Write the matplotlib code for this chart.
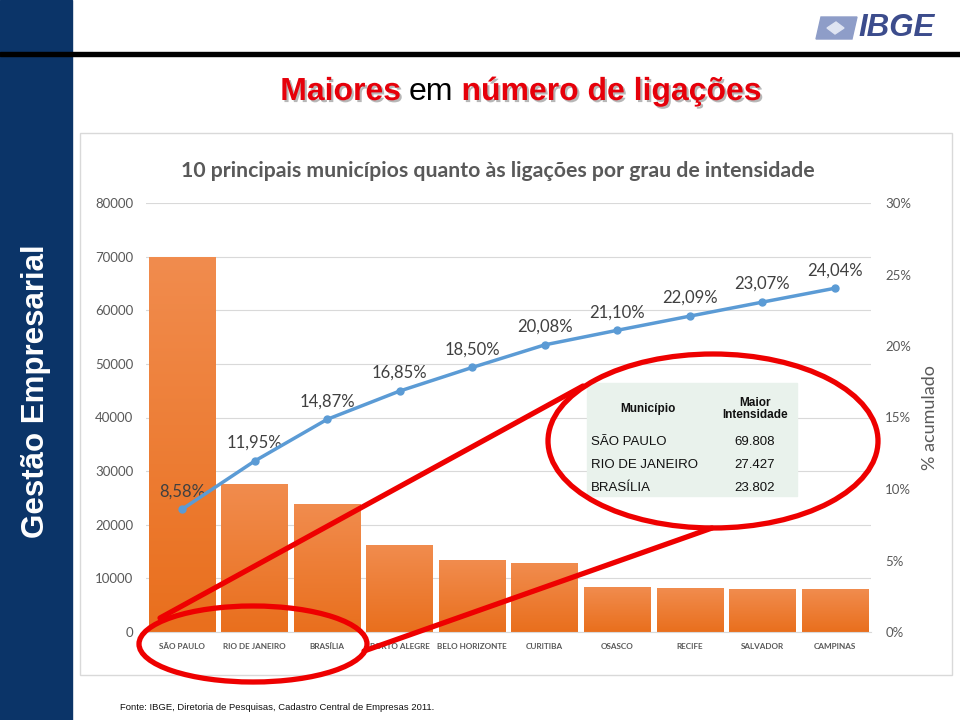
import numpy as np
import matplotlib
matplotlib.use("Agg")
import matplotlib.pyplot as plt
import matplotlib.patheffects as pe
from matplotlib.patches import Rectangle, Ellipse, Polygon
from matplotlib.colors import LinearSegmentedColormap
from matplotlib.ticker import FuncFormatter

# Data
municipios = ["SÃO PAULO", "RIO DE JANEIRO", "BRASÍLIA", "PORTO ALEGRE", "BELO HORIZONTE",
              "CURITIBA", "OSASCO", "RECIFE", "SALVADOR", "CAMPINAS"]
ligacoes = [69808, 27427, 23802, 16100, 13420, 12860, 8300, 8060, 7970, 7890]
acumulado = [8.58, 11.95, 14.87, 16.85, 18.50, 20.08, 21.10, 22.09, 23.07, 24.04]
left_ticks = [0, 10000, 20000, 30000, 40000, 50000, 60000, 70000, 80000]
right_ticks = [0, 5, 10, 15, 20, 25, 30]
n_table = 3  # rows shown in the inset table

W, H = 960, 720
fig = plt.figure(figsize=(W / 100, H / 100), dpi=100)
fig.patch.set_facecolor("white")

# background layer in pixel coordinates
bg = fig.add_axes([0, 0, 1, 1], zorder=-5)
bg.set_xlim(0, W)
bg.set_ylim(H, 0)
bg.axis("off")
bg.add_patch(Rectangle((0, 0), 72, H, color="#0b3468"))
bg.add_patch(Rectangle((0, 52), W, 4, color="black"))
bg.add_patch(Rectangle((80, 133), 872, 542, facecolor="white", edgecolor="#d9d9d9", lw=1))
bg.text(36, 391, "Gestão Empresarial", rotation=90, color="white", fontsize=22.5,
        fontweight="bold", family="Liberation Sans", ha="center", va="center")

# IBGE logo
bg.add_patch(Polygon([(821, 17), (857, 17), (852, 39), (816, 39)], closed=True, color="#8e9dc8"))
bg.add_patch(Polygon([(836, 22), (844, 28), (835, 34), (827, 28)], closed=True, color="#dfe4f2"))
bg.text(897, 28, "IBGE", color="#3c4c8c", fontsize=22.5, fontweight="bold", style="italic",
        family="Liberation Sans", ha="center", va="center")

# footer
bg.text(120, 707, "Fonte: IBGE, Diretoria de Pesquisas, Cadastro Central de Empresas 2011.",
        fontsize=6.8, family="Liberation Sans", color="#111111", ha="left", va="center")

# chart title
bg.text(498, 171, "10 principais municípios quanto às ligações por grau de intensidade",
        fontsize=15.3, fontweight="bold", family="Lato", color="#595959", ha="center", va="center")

# slide title with mixed colours
red = "#e6000a"
parts = [("Maiores", red, "bold"), ("em", "black", "normal"), ("número de ligações", red, "bold")]
renderer = fig.canvas.get_renderer()
texts = []
for s, c, w in parts:
    t = bg.text(0, 92, s, color=c, fontweight=w, fontsize=23, family="Liberation Sans",
                ha="left", va="center",
                path_effects=[pe.SimplePatchShadow(offset=(1.5, -1.5), shadow_rgbFace="#888888", alpha=0.6),
                              pe.Normal()] if c == red else None)
    texts.append(t)
gap = 8
widths = [t.get_window_extent(renderer).width for t in texts]
x0 = 521 - (sum(widths) + gap * (len(widths) - 1)) / 2
for t, w in zip(texts, widths):
    t.set_x(x0)
    x0 += w + gap

# main chart
ax = fig.add_axes([145.7 / W, 1 - 632 / H, 725.6 / W, 429 / H])
x = np.arange(len(municipios))
bars = ax.bar(x, ligacoes, width=0.92, color="none", zorder=2)
grad = np.linspace(0, 1, 256).reshape(-1, 1)
cmap = LinearSegmentedColormap.from_list("lar", ["#e96f1d", "#f18c4e"])
for b in bars:
    ax.imshow(grad, cmap=cmap, origin="lower", aspect="auto", zorder=2,
              extent=[b.get_x(), b.get_x() + b.get_width(), 0, b.get_height()])
ax.set_xlim(-0.5, len(municipios) - 0.5)
ax.set_ylim(0, 80000)
ax.set_yticks(left_ticks)
ax.set_yticklabels([str(v) for v in left_ticks], fontsize=9.5, family="Lato", color="#595959")
ax.set_xticks(x)
ax.set_xticklabels(municipios, fontsize=5.9, fontweight="bold", family="Lato", color="#595959")
ax.tick_params(length=0)
ax.tick_params(axis="y", pad=9)
ax.tick_params(axis="x", pad=8)
ax.grid(axis="y", color="#d9d9d9", lw=0.8)
ax.set_axisbelow(True)
for s in ["top", "left", "right"]:
    ax.spines[s].set_visible(False)
ax.spines["bottom"].set_color("#d9d9d9")

ax2 = ax.twinx()
ax2.plot(x, acumulado, color="#5b9bd5", lw=2.5, marker="o", ms=5, zorder=5)
for xi, v in zip(x, acumulado):
    ax2.annotate(f"{v:.2f}".replace(".", ",") + "%", (xi, v), xytext=(0, 13),
                 textcoords="offset points", ha="center", va="center",
                 fontsize=12, family="Lato", color="#404040")
ax2.set_ylim(0, 30)
ax2.set_yticks(right_ticks)
ax2.yaxis.set_major_formatter(FuncFormatter(lambda v, p: f"{v:.0f}%"))
for lb in ax2.get_yticklabels():
    lb.set_fontsize(9.5)
    lb.set_family("Lato")
    lb.set_color("#595959")
ax2.tick_params(length=0, pad=10)
for s in ax2.spines.values():
    s.set_visible(False)
ax2.set_ylabel("% acumulado", fontsize=13, family="Lato", color="#595959", labelpad=8)

# overlay: inset table and red highlights
ov = fig.add_axes([0, 0, 1, 1], zorder=10)
ov.set_xlim(0, W)
ov.set_ylim(H, 0)
ov.axis("off")
ov.patch.set_alpha(0)
ov.add_patch(Rectangle((587, 383), 210, 113, color="#e9f2ec"))
ov.text(648, 409, "Município", fontsize=8.5, fontweight="bold", family="Liberation Sans",
        ha="center", va="center", color="#111111")
ov.text(755, 409, "Maior\nIntensidade", fontsize=8.5, fontweight="bold", family="Liberation Sans",
        ha="center", va="center", color="#111111", linespacing=0.95)
for i in range(n_table):
    y = 442 + i * 23
    ov.text(591, y, municipios[i], fontsize=9.5, family="Liberation Sans", ha="left", va="center",
            color="#111111")
    ov.text(755, y, f"{ligacoes[i]:,}".replace(",", "."), fontsize=9.5, family="Liberation Sans",
            ha="center", va="center", color="#111111")

red_line = "#ee0000"
ov.add_patch(Ellipse((713, 441), 330, 174, fill=False, ec=red_line, lw=3.8))
ov.add_patch(Ellipse((253, 644), 228, 76, fill=False, ec=red_line, lw=3.8))
ov.plot([160, 583], [618, 386], color=red_line, lw=3.8, solid_capstyle="round")
ov.plot([364, 712], [651, 528], color=red_line, lw=3.8, solid_capstyle="round")

fig.savefig("out.png", dpi=100)
